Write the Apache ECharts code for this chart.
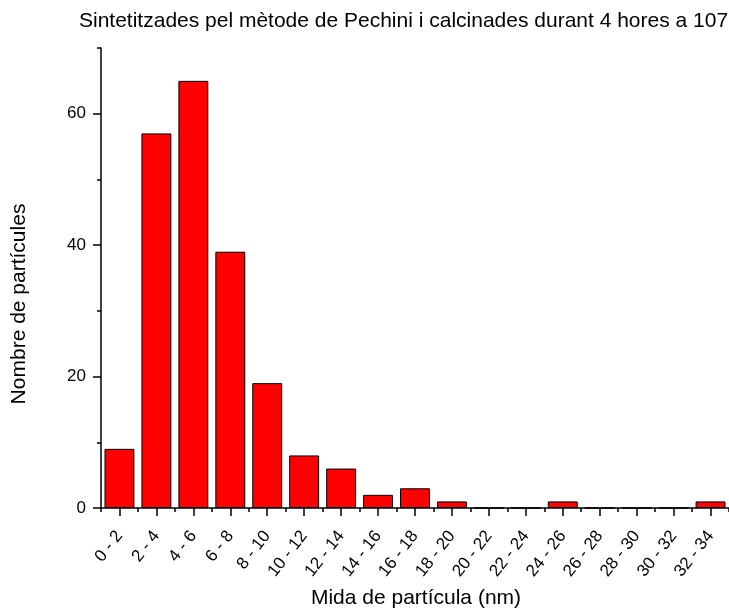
<!DOCTYPE html>
<html>
<head>
<meta charset="utf-8">
<script src="https://cdn.jsdelivr.net/npm/echarts@6/dist/echarts.min.js"></script>
<style>
html,body{margin:0;padding:0;background:#fff;}
#chart{width:729px;height:611px;}
</style>
</head>
<body>
<div id="chart"></div>
<script>
const categories = ["0 - 2","2 - 4","4 - 6","6 - 8","8 - 10","10 - 12","12 - 14","14 - 16","16 - 18","18 - 20","20 - 22","22 - 24","24 - 26","26 - 28","28 - 30","30 - 32","32 - 34"];
const counts = [9, 57, 65, 39, 19, 8, 6, 2, 3, 1, 0, 0, 1, 0, 0, 0, 1];
const yMajorTicks = [0, 20, 40, 60];
const yMinorTicks = [10, 30, 50, 70];
const titleText = "Sintetitzades pel mètode de Pechini i calcinades durant 4 hores a 107";
const xTitle = "Mida de partícula (nm)";
const yTitle = "Nombre de partícules";

const FONT = "Liberation Sans, Arial, sans-serif";
const chart = echarts.init(document.getElementById('chart'));
chart.setOption({
  animation: false,
  backgroundColor: '#fff',
  grid: {left: 101, right: 0, top: 48, bottom: 103, containLabel: false},
  graphic: [
    {type: 'text', x: 79, y: 21, style: {text: titleText, font: '21px ' + FONT, fill: '#000', align: 'left', verticalAlign: 'middle'}},
    {type: 'text', x: 416, y: 598, style: {text: xTitle, font: '21px ' + FONT, fill: '#000', align: 'center', verticalAlign: 'middle'}},
    {type: 'text', x: 19, y: 304, rotation: Math.PI / 2, style: {text: yTitle, font: '21px ' + FONT, fill: '#000', align: 'center', verticalAlign: 'middle'}}
  ],
  xAxis: [
    {
      type: 'category', data: categories, position: 'bottom', boundaryGap: true,
      axisLine: {show: true, lineStyle: {color: '#000', width: 1.5}},
      axisTick: {show: true, alignWithLabel: true, length: 8, lineStyle: {color: '#000', width: 1.5}},
      axisLabel: {rotate: 52, margin: 25, fontSize: 17, fontFamily: FONT, color: '#000', interval: 0}
    },
    {
      type: 'category', data: categories, position: 'bottom', boundaryGap: true,
      axisLine: {show: false},
      axisTick: {show: true, alignWithLabel: false, length: 4, interval: 0, lineStyle: {color: '#000', width: 1.5}},
      axisLabel: {show: false}
    }
  ],
  yAxis: [
    {
      type: 'value', min: 0, max: 70, interval: 10,
      axisLine: {show: true, lineStyle: {color: '#000', width: 1.5}},
      axisTick: {show: true, length: 8, customValues: yMajorTicks, lineStyle: {color: '#000', width: 1.5}},
      axisLabel: {customValues: yMajorTicks, margin: 15, fontSize: 17, fontFamily: FONT, color: '#000'},
      splitLine: {show: false}
    },
    {
      type: 'value', min: 0, max: 70, interval: 10, position: 'left',
      axisLine: {show: false},
      axisTick: {show: true, length: 4, customValues: yMinorTicks, lineStyle: {color: '#000', width: 1.5}},
      axisLabel: {show: false},
      splitLine: {show: false}
    }
  ],
  series: [{
    type: 'bar', data: counts, barCategoryGap: '19%',
    itemStyle: {color: '#ff0000', borderColor: '#000', borderWidth: 1}
  }]
});
</script>
</body>
</html>
